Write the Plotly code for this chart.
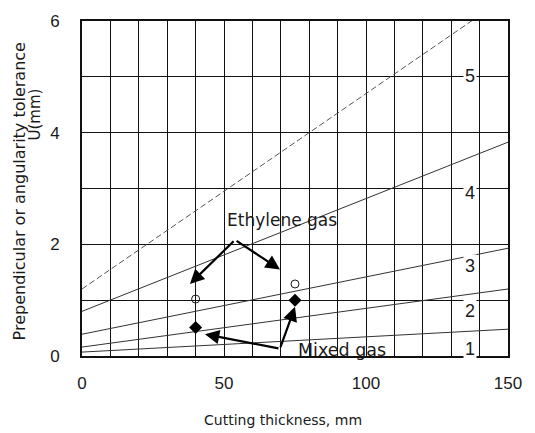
import plotly.graph_objects as go

# ---- data ----
line_x = [0, 150]
range1 = [0.07, 0.48]
range2 = [0.16, 1.20]
range3 = [0.39, 1.93]
range4 = [0.80, 3.83]
range5_x = [0, 140]
range5 = [1.20, 6.10]

range_labels = ["1", "2", "3", "4", "5"]
range_label_x = [136.5, 136.5, 136.5, 136.5, 136.5]
range_label_y = [0.13, 0.80, 1.62, 2.92, 5.02]

ethylene_x = [40, 75]
ethylene_y = [1.02, 1.29]
mixed_x = [40, 75]
mixed_y = [0.51, 1.00]

x_ticks = [0, 50, 100, 150]
y_ticks = [0, 2, 4, 6]

FONT = "Liberation Sans, Arial, sans-serif"
NARROW = "Liberation Sans Narrow, Arial Narrow, Liberation Sans, sans-serif"
WIDE = "DejaVu Sans, Verdana, sans-serif"
INK = "#1a1a1a"

W, H = 535, 433
L, R, T, B = 82, 27, 12, 77
pw, ph = W - L - R, H - T - B


def px(x):
    return (x - L) / pw


def py(y):
    return (H - B - y) / ph


fig = go.Figure()

for ys, xs, dash, col in [
    (range1, line_x, "solid", "#333"),
    (range2, line_x, "solid", "#333"),
    (range3, line_x, "solid", "#333"),
    (range4, line_x, "solid", "#333"),
    (range5, range5_x, "6px,3px", "#555"),
]:
    fig.add_trace(go.Scatter(x=xs, y=ys, mode="lines",
                             line=dict(color=col, width=1, dash=dash),
                             showlegend=False, hoverinfo="skip"))

fig.add_trace(go.Scatter(x=ethylene_x, y=ethylene_y, mode="markers",
                         marker=dict(symbol="circle-open", size=8, color=INK,
                                     line=dict(width=1, color=INK)),
                         showlegend=False))
fig.add_trace(go.Scatter(x=mixed_x, y=mixed_y, mode="markers",
                         marker=dict(symbol="diamond", size=10, color="#000"),
                         showlegend=False))

for t, x, y in zip(range_labels, range_label_x, range_label_y):
    fig.add_annotation(x=x, y=y, text=t, showarrow=False, xref="x", yref="y",
                       xanchor="center", yanchor="middle",
                       font=dict(size=18, color=INK, family=FONT), bgcolor="white")

fig.add_annotation(x=70.3, y=2.44, text="Ethylene gas", showarrow=False,
                   xanchor="center", yanchor="middle",
                   font=dict(size=17, color=INK, family=WIDE))
fig.add_annotation(x=91.5, y=0.10, text="Mixed gas", showarrow=False,
                   xanchor="center", yanchor="middle",
                   font=dict(size=17.5, color=INK, family=WIDE))

# arrows: (tip, tail)
arrows = [
    ((38.0, 1.29), (53.9, 2.08)),
    ((69.7, 1.55), (53.9, 2.08)),
    ((75.0, 0.88), (69.7, 0.13)),
    ((43.3, 0.39), (69.7, 0.13)),
]
for (tx, ty), (sx, sy) in arrows:
    fig.add_annotation(x=tx, y=ty, ax=sx, ay=sy, xref="x", yref="y",
                       axref="x", ayref="y", showarrow=True, arrowhead=2,
                       arrowsize=1.3, arrowwidth=2.2, arrowcolor="#000", text="")

# axis titles
fig.add_annotation(x=px(283), y=py(422), xref="paper", yref="paper",
                   xanchor="center", yanchor="middle",
                   text="Cutting thickness, mm", showarrow=False,
                   font=dict(size=14, color=INK, family=WIDE))
fig.add_annotation(x=px(19), y=py(187), xref="paper", yref="paper",
                   xanchor="center", yanchor="middle",
                   text="Prependicular or angularity tolerance", textangle=-90,
                   showarrow=False, font=dict(size=16, color=INK, family=WIDE))
fig.add_annotation(x=px(35), y=py(108), xref="paper", yref="paper",
                   xanchor="center", yanchor="middle",
                   text="U(mm)", textangle=-90,
                   showarrow=False, font=dict(size=15, color=INK, family=WIDE))

fig.update_layout(
    width=W, height=H,
    margin=dict(l=L, r=R, t=T, b=B),
    paper_bgcolor="white", plot_bgcolor="white",
    font=dict(family=FONT, color=INK),
    xaxis=dict(range=[0, 150], tickvals=x_ticks, showgrid=True, gridcolor="#111",
               gridwidth=1.4, minor=dict(dtick=10, showgrid=True, gridcolor="#111", gridwidth=1.4),
               showline=True, mirror=True, linecolor="#111", linewidth=1.6,
               zeroline=False, ticks="", ticklabelstandoff=11,
               tickfont=dict(size=17, color=INK, family=NARROW)),
    yaxis=dict(range=[0, 6], tickvals=y_ticks, showgrid=True, gridcolor="#111",
               gridwidth=1.4, minor=dict(dtick=1, showgrid=True, gridcolor="#111", gridwidth=1.4),
               showline=True, mirror=True, linecolor="#111", linewidth=1.6,
               zeroline=False, ticks="", ticklabelstandoff=17,
               tickfont=dict(size=17, color=INK, family=NARROW)),
)

fig.write_html("out.html")
